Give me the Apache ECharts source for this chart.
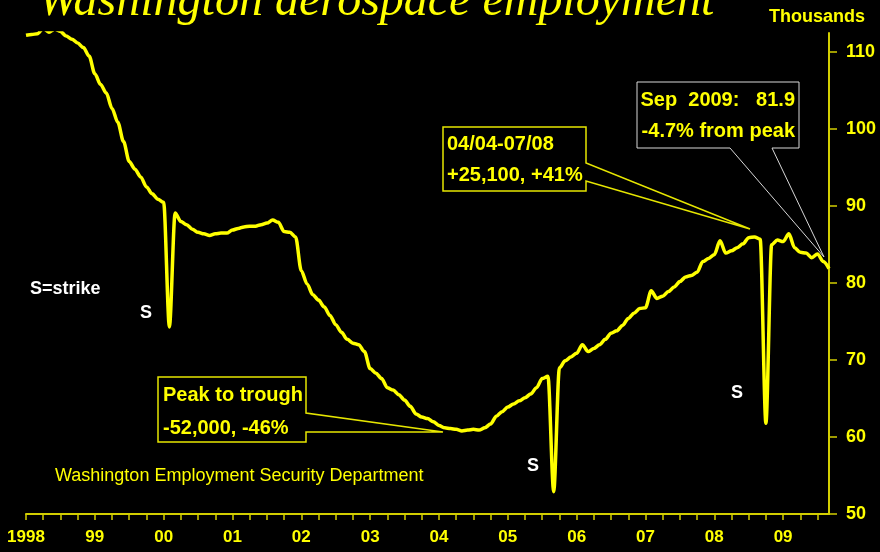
<!DOCTYPE html>
<html>
<head>
<meta charset="utf-8">
<title>Washington aerospace employment</title>
<script src="https://cdn.jsdelivr.net/npm/echarts@6/dist/echarts.min.js"></script>
<style>
html, body {
  margin: 0;
  padding: 0;
  background: #000;
}
.chart {
  width: 880px;
  height: 552px;
}
</style>
</head>
<body>
<div class="chart"></div>
<script>
// monthly, Jan 1998 .. Sep 2009 (thousands)
let employment = [
  112.2, 112.3, 112.4, 113.1, 112.6, 113.0, 112.7, 112.1, 111.7, 111.2, 110.6, 109.5,
  107.2, 105.8, 104.7, 102.7, 100.9, 98.4, 95.8, 94.8, 93.8, 92.5, 91.6, 90.9,
  90.5, 74.3, 89.1, 88.0, 87.6, 87.0, 86.6, 86.4, 86.2, 86.4, 86.5, 86.5,
  86.9, 87.1, 87.3, 87.4, 87.4, 87.6, 87.8, 88.2, 87.9, 86.7, 86.6, 86.0,
  81.6, 79.9, 78.5, 77.8, 76.9, 75.8, 74.6, 73.6, 72.7, 72.2, 72.0, 71.1,
  68.9, 68.3, 67.6, 66.4, 66.1, 65.5, 64.8, 64.0, 63.0, 62.6, 62.4, 62.0,
  61.5, 61.2, 61.1, 61.0, 60.8, 60.9, 61.0, 60.9, 61.2, 61.7, 62.7, 63.3,
  63.9, 64.3, 64.7, 65.1, 65.6, 66.4, 67.6, 67.9, 52.9, 69.0, 69.9, 70.4,
  70.9, 72.0, 71.1, 71.5, 72.0, 72.7, 73.5, 73.8, 74.5, 75.4, 76.1, 76.7,
  76.8, 79.0, 78.0, 78.3, 78.9, 79.5, 80.2, 80.8, 81.0, 81.4, 82.8, 83.2,
  83.7, 85.5, 83.9, 84.2, 84.6, 85.1, 85.9, 86.0, 85.7, 61.8, 85.0, 85.6,
  85.4, 86.4, 84.6, 84.0, 83.9, 83.3, 83.8, 82.8, 81.9
]
let yearLabels = ['1998', '99', '00', '01', '02', '03', '04', '05', '06', '07', '08', '09']
let yTicks = [50, 60, 70, 80, 90, 100, 110]

let yellow = '#ffff00'
let axisColor = '#d2ce00'
let sans = '"Liberation Sans", Arial, sans-serif'

// x is month index from Jan 1998
let points = employment.map(function (v, i) {
  return [i, v]
})
let quarterTicks = []
for (let m = 0; m < employment.length - 1; m += 3) {
  quarterTicks.push(m)
}
let yearTicks = yearLabels.map(function (label, i) {
  return i * 12
})

function boxText (x, y, text, align, color) {
  return {
    type: 'text',
    x: x,
    y: y,
    style: {
      text: text,
      fill: color || yellow,
      font: 'bold 20px ' + sans,
      textAlign: align || 'left',
      textVerticalAlign: 'middle'
    }
  }
}

let chart = echarts.init(document.querySelector('.chart'))
chart.setOption({
  backgroundColor: '#000',
  animation: false,
  grid: {
    left: 26,
    right: 51,
    top: 33,
    bottom: 38,
    outerBoundsMode: 'none'
  },
  xAxis: {
    type: 'value',
    min: 0,
    max: employment.length - 1,
    splitLine: { show: false },
    axisLine: { onZero: false, lineStyle: { color: axisColor, width: 2 } },
    axisTick: {
      customValues: quarterTicks,
      length: 6,
      lineStyle: { color: axisColor, width: 1.5 }
    },
    axisLabel: {
      customValues: yearTicks,
      margin: 15,
      color: yellow,
      fontFamily: sans,
      fontWeight: 'bold',
      fontSize: 17,
      formatter: function (v) {
        return yearLabels[Math.round(v / 12)]
      }
    }
  },
  yAxis: {
    type: 'value',
    position: 'right',
    min: 50,
    max: 112.5,
    interval: 10,
    splitLine: { show: false },
    axisLine: { show: true, onZero: false, lineStyle: { color: axisColor, width: 2 } },
    axisTick: {
      show: true,
      customValues: yTicks,
      length: 8,
      lineStyle: { color: axisColor, width: 1.5 }
    },
    axisLabel: {
      customValues: yTicks,
      margin: 17,
      color: yellow,
      fontFamily: sans,
      fontWeight: 'bold',
      fontSize: 18
    }
  },
  series: [
    {
      type: 'line',
      data: points,
      showSymbol: false,
      smooth: 0.3,
      smoothMonotone: 'x',
      lineStyle: { color: yellow, width: 3.5 }
    }
  ],
  graphic: [
    {
      type: 'text',
      x: 38,
      y: 2,
      style: {
        text: 'Washington aerospace employment',
        fill: yellow,
        font: 'italic 48px "Liberation Serif", "Times New Roman", serif',
        textVerticalAlign: 'middle'
      }
    },
    {
      type: 'text',
      x: 817,
      y: 17,
      style: {
        text: 'Thousands',
        fill: yellow,
        font: 'bold 18px ' + sans,
        textAlign: 'center',
        textVerticalAlign: 'middle'
      }
    },
    {
      type: 'text',
      x: 30,
      y: 289,
      style: { text: 'S=strike', fill: '#fff', font: 'bold 18px ' + sans, textVerticalAlign: 'middle' }
    },
    {
      type: 'text',
      x: 146,
      y: 313,
      style: { text: 'S', fill: '#fff', font: 'bold 18px ' + sans, textAlign: 'center', textVerticalAlign: 'middle' }
    },
    {
      type: 'text',
      x: 533,
      y: 466,
      style: { text: 'S', fill: '#fff', font: 'bold 18px ' + sans, textAlign: 'center', textVerticalAlign: 'middle' }
    },
    {
      type: 'text',
      x: 737,
      y: 393,
      style: { text: 'S', fill: '#fff', font: 'bold 18px ' + sans, textAlign: 'center', textVerticalAlign: 'middle' }
    },
    {
      type: 'text',
      x: 55,
      y: 476,
      style: {
        text: 'Washington Employment Security Department',
        fill: yellow,
        font: '18px ' + sans,
        textVerticalAlign: 'middle'
      }
    },
    // callouts
    {
      type: 'polygon',
      shape: { points: [[158, 377], [306, 377], [306, 413], [443, 432], [306, 432], [306, 442], [158, 442]] },
      style: { fill: 'none', stroke: '#e6e600', lineWidth: 1.5 }
    },
    boxText(163, 395, 'Peak to trough'),
    boxText(163, 428, '-52,000, -46%'),
    {
      type: 'polygon',
      shape: { points: [[443, 127], [586, 127], [586, 163], [750, 229], [586, 181], [586, 191], [443, 191]] },
      style: { fill: 'none', stroke: '#e6e600', lineWidth: 1.5 }
    },
    boxText(447, 144, '04/04-07/08'),
    boxText(447, 175, '+25,100, +41%'),
    {
      type: 'polygon',
      shape: { points: [[637, 82], [799, 82], [799, 148], [772, 148], [824, 257], [730, 148], [637, 148]] },
      style: { fill: 'none', stroke: '#d8d8d8', lineWidth: 1 }
    },
    boxText(795, 100, 'Sep  2009:   81.9', 'right'),
    boxText(795, 131, '-4.7% from peak', 'right')
  ]
})
</script>
</body>
</html>
